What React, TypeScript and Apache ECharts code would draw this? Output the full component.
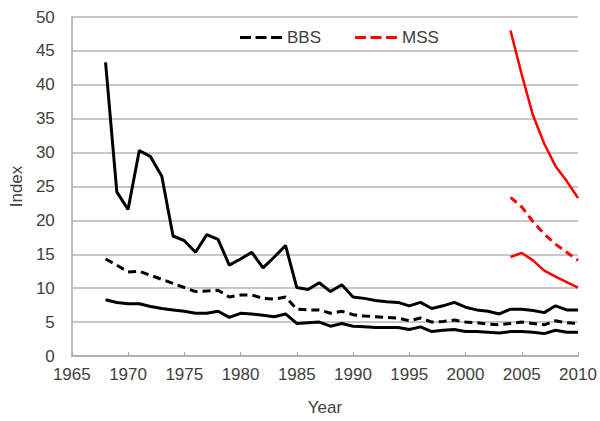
import React, { useEffect, useRef } from "react";
import * as echarts from "echarts";

const bbsYears = [1968,1969,1970,1971,1972,1973,1974,1975,1976,1977,1978,1979,1980,1981,1982,1983,1984,1985,1986,1987,1988,1989,1990,1991,1992,1993,1994,1995,1996,1997,1998,1999,2000,2001,2002,2003,2004,2005,2006,2007,2008,2009,2010];
const bbsUpper = [43.3,24.2,21.6,30.3,29.4,26.5,17.7,17.0,15.3,17.9,17.2,13.4,14.3,15.3,13.0,14.6,16.3,10.1,9.8,10.8,9.5,10.5,8.7,8.5,8.2,8.0,7.9,7.4,7.9,7.0,7.4,7.9,7.2,6.8,6.6,6.2,6.9,6.9,6.7,6.4,7.4,6.8,6.8];
const bbsMid = [14.3,13.4,12.4,12.5,11.9,11.3,10.7,10.1,9.5,9.6,9.7,8.7,9.0,9.0,8.5,8.4,8.7,6.9,6.8,6.8,6.3,6.6,6.1,5.9,5.8,5.7,5.6,5.2,5.6,5.0,5.1,5.3,5.0,4.9,4.7,4.6,4.8,5.0,4.8,4.6,5.2,4.9,4.8];
const bbsLower = [8.3,7.9,7.7,7.7,7.3,7.0,6.8,6.6,6.3,6.3,6.6,5.7,6.3,6.2,6.0,5.8,6.2,4.8,4.9,5.0,4.4,4.8,4.4,4.3,4.2,4.2,4.2,3.9,4.3,3.6,3.8,3.9,3.6,3.6,3.5,3.4,3.6,3.6,3.5,3.3,3.8,3.5,3.5];

const mssYears = [2004,2005,2006,2007,2008,2009,2010];
const mssUpper = [48.0,41.5,35.5,31.3,28.0,25.8,23.3];
const mssMid = [23.4,22.0,19.8,18.0,16.5,15.3,14.1];
const mssLower = [14.6,15.2,14.1,12.6,11.7,10.9,10.1];

const xTicks = { min: 1965, max: 2010, interval: 5 };
const yTicks = { min: 0, max: 50, interval: 5 };

const pair = (xs: number[], ys: number[]) => xs.map((x, i) => [x, ys[i]]);

const dashIcon = "path://M0,0h11v3h-11z M15.5,0h11v3h-11z M31,0h11v3h-11z";

export default function App() {
  const ref = useRef<HTMLDivElement>(null);
  useEffect(() => {
    if (!ref.current) return;
    const chart = echarts.init(ref.current, undefined, { renderer: "svg" });
    const font = "'Liberation Sans', Arial, sans-serif";
    const mk = (name: string, xs: number[], ys: number[], color: string, dashed: boolean, width: number) => ({
      name,
      type: "line",
      data: pair(xs, ys),
      symbol: "none",
      lineStyle: { color, width, type: dashed ? [8, 5] : "solid" },
      itemStyle: { color },
      z: 3,
    });
    chart.setOption({
      animation: false,
      backgroundColor: "#fff",
      grid: { left: 68, right: 22, top: 17, bottom: 61 },
      legend: {
        data: [
          { name: "BBS", icon: dashIcon },
          { name: "MSS", icon: dashIcon },
        ],
        left: 235,
        top: 24,
        itemWidth: 42,
        itemHeight: 3,
        itemGap: 34,
        textStyle: { fontFamily: font, fontSize: 17, color: "#404040" },
      },
      xAxis: {
        type: "value",
        ...xTicks,
        name: "Year",
        nameLocation: "middle",
        nameGap: 43,
        nameTextStyle: { fontFamily: font, fontSize: 17, color: "#404040" },
        axisLine: { show: true, lineStyle: { color: "#a8a8a8", width: 1.5 } },
        axisTick: { show: true, inside: true, length: 4, lineStyle: { color: "#a8a8a8" } },
        axisLabel: { fontFamily: font, fontSize: 17, color: "#404040", margin: 10, formatter: (v: number) => String(v) },
        splitLine: { show: false },
      },
      yAxis: {
        type: "value",
        ...yTicks,
        name: "Index",
        nameLocation: "middle",
        nameGap: 43,
        nameTextStyle: { fontFamily: font, fontSize: 17, color: "#404040" },
        axisLine: { show: true, lineStyle: { color: "#a8a8a8", width: 1.5 } },
        axisTick: { show: false },
        axisLabel: { fontFamily: font, fontSize: 17, color: "#404040", margin: 17 },
        splitLine: { show: true, lineStyle: { color: "#b4b4b4", width: 1.5 } },
      },
      series: [
        mk("BBS", bbsYears, bbsMid, "#000000", true, 3),
        mk("BBS upper", bbsYears, bbsUpper, "#000000", false, 3),
        mk("BBS lower", bbsYears, bbsLower, "#000000", false, 3),
        mk("MSS", mssYears, mssMid, "#ff0000", true, 3),
        mk("MSS upper", mssYears, mssUpper, "#ff0000", false, 2.5),
        mk("MSS lower", mssYears, mssLower, "#ff0000", false, 2.5),
      ],
    });
    return () => chart.dispose();
  }, []);
  return <div ref={ref} style={{ width: 600, height: 421, position: "absolute", left: 0, top: 0 }} />;
}
